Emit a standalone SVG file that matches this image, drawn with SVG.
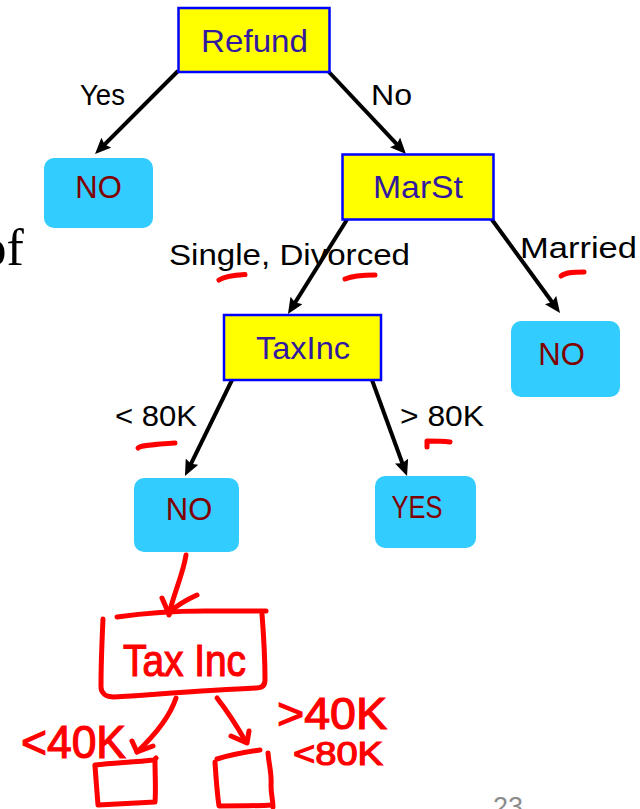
<svg xmlns="http://www.w3.org/2000/svg" width="640" height="809" viewBox="0 0 640 809">
  <defs>
    <style>
      .dec rect { fill: #FFFF00; stroke: #0000FF; stroke-width: 2.5; }
      .leaf rect { fill: #33CCFF; }
      .ntext { font-family: "Liberation Sans", Arial, sans-serif; font-size: 32px; fill: #3219A0; text-anchor: middle; }
      .ltext { font-family: "Liberation Sans", Arial, sans-serif; font-size: 31px; fill: #800000; text-anchor: middle; }
      .elabel { font-family: "Liberation Sans", Arial, sans-serif; font-size: 30px; fill: #000000; }
      .edge { stroke: #000000; stroke-width: 4; fill: none; marker-end: url(#arrow); }
      .ink { stroke: #FF0000; stroke-width: 5; fill: none; stroke-linecap: round; stroke-linejoin: round; }
      .inktext { font-family: "Liberation Sans", Arial, sans-serif; fill: #FF0000; stroke: #FF0000; stroke-width: 1.2; }
    </style>
    <marker id="arrow" viewBox="0 0 16 14" refX="8" refY="7" markerWidth="16" markerHeight="14" markerUnits="userSpaceOnUse" orient="auto">
      <path d="M0,0 L16,7 L0,14 L2.5,7 Z" fill="#000000"/>
    </marker>
  </defs>

  <rect x="0" y="0" width="640" height="809" fill="#FFFFFF"/>

  <!-- stray slide text -->
  <text x="-19.5" y="265" font-family="'Liberation Serif', 'Times New Roman', serif" font-size="52" fill="#000000">of</text>
  <text x="493" y="816" font-family="'Liberation Sans', Arial, sans-serif" font-size="27" fill="#8C8C8C">23</text>

  <!-- connectors -->
  <g id="connectors">
    <line class="edge" x1="178" y1="71" x2="100.7" y2="148.3"/>
    <line class="edge" x1="328" y1="71" x2="400.5" y2="148.2"/>
    <line class="edge" x1="348" y1="218" x2="292.2" y2="307.2"/>
    <line class="edge" x1="490" y1="217" x2="555.3" y2="306.5"/>
    <line class="edge" x1="232" y1="380" x2="188.5" y2="468.8"/>
    <line class="edge" x1="372" y1="380" x2="404.3" y2="468.5"/>
  </g>

  <!-- edge labels -->
  <g id="edge-labels">
    <text class="elabel" x="80" y="105" textLength="45" lengthAdjust="spacingAndGlyphs">Yes</text>
    <text class="elabel" x="371" y="105" textLength="41" lengthAdjust="spacingAndGlyphs">No</text>
    <text class="elabel" x="169" y="265" font-size="31" textLength="241" lengthAdjust="spacingAndGlyphs">Single, Divorced</text>
    <text class="elabel" x="520" y="258" font-size="31" textLength="117" lengthAdjust="spacingAndGlyphs">Married</text>
    <text class="elabel" x="115" y="426" textLength="82" lengthAdjust="spacingAndGlyphs">&lt; 80K</text>
    <text class="elabel" x="400" y="426" textLength="84" lengthAdjust="spacingAndGlyphs">&gt; 80K</text>
  </g>

  <!-- decision nodes -->
  <g id="node-refund" class="dec">
    <rect x="178.5" y="8" width="151" height="64"/>
    <text class="ntext" x="254.5" y="52" textLength="107" lengthAdjust="spacingAndGlyphs">Refund</text>
  </g>
  <g id="node-marst" class="dec">
    <rect x="342.5" y="154.5" width="151" height="65"/>
    <text class="ntext" x="418" y="198" textLength="90" lengthAdjust="spacingAndGlyphs">MarSt</text>
  </g>
  <g id="node-taxinc" class="dec">
    <rect x="224" y="315" width="157" height="65"/>
    <text class="ntext" x="303" y="359" textLength="94" lengthAdjust="spacingAndGlyphs">TaxInc</text>
  </g>

  <!-- leaf nodes -->
  <g id="leaf-no-refund" class="leaf">
    <rect x="44" y="158" width="109" height="70" rx="10"/>
    <text class="ltext" x="98.5" y="198">NO</text>
  </g>
  <g id="leaf-no-married" class="leaf">
    <rect x="511" y="321" width="109" height="76" rx="10"/>
    <text class="ltext" x="561.5" y="365">NO</text>
  </g>
  <g id="leaf-no-low" class="leaf">
    <rect x="134" y="478" width="105" height="74" rx="10"/>
    <text class="ltext" x="189" y="520">NO</text>
  </g>
  <g id="leaf-yes" class="leaf">
    <rect x="375" y="476" width="101" height="72" rx="10"/>
    <text class="ltext" x="417" y="518" textLength="51" lengthAdjust="spacingAndGlyphs">YES</text>
  </g>

  <!-- handwritten red annotations -->
  <g id="annotations">
    <!-- underlines -->
    <path class="ink" d="M219,280 C225,276 235,275 245,274.5"/>
    <path class="ink" d="M345,279 C352,276 364,275 375,275"/>
    <path class="ink" d="M561,276 C566,272 575,272 584,272"/>
    <path class="ink" stroke-width="4" d="M138,448 C140,446 145,445 175,443"/>
    <path class="ink" stroke-width="4" d="M427,447 L427,441 C435,441 442,441 450,442"/>

    <!-- arrow into hand-drawn box -->
    <path class="ink" d="M186,555 C183,575 172,598 169,615"/>
    <path class="ink" d="M162,598 L169,614 M197,595 C186,600 176,606 170,612"/>

    <!-- hand-drawn box -->
    <path class="ink" d="M117,617 C145,613 175,611 205,611 L266,611"/>
    <path class="ink" d="M262,614 C264,640 265,662 265,680 C265,686 261,688 256,688 C210,690 160,694 114,697 C106,697 101,693 101,687 C101,665 102,640 103,619"/>
    <g id="node-taxinc-hand">
      <text class="inktext" x="123" y="676" font-size="44" textLength="123" lengthAdjust="spacingAndGlyphs">Tax Inc</text>
    </g>

    <!-- branch arrows -->
    <path class="ink" d="M176,698 C170,716 155,735 137,752"/>
    <path class="ink" d="M132,741 L137,752 L153,746"/>
    <path class="ink" d="M217,698 C228,712 238,728 246,742"/>
    <path class="ink" d="M231,736 L247,743 L249,731"/>

    <!-- branch labels -->
    <text class="inktext" x="21" y="758" font-size="46" textLength="105" lengthAdjust="spacingAndGlyphs">&lt;40K</text>
    <text class="inktext" x="277" y="729" font-size="44" textLength="110" lengthAdjust="spacingAndGlyphs">&gt;40K</text>
    <text class="inktext" x="293" y="765" font-size="33" textLength="90" lengthAdjust="spacingAndGlyphs">&lt;80K</text>

    <!-- empty child boxes -->
    <g id="hand-box-left">
      <path class="ink" d="M95,765 C115,763 135,762 154,760 L156,758"/>
      <path class="ink" d="M95,766 C96,780 97,792 98,805 C118,804 138,803 155,802 C156,790 155,775 155,761"/>
    </g>
    <g id="hand-box-right">
      <path class="ink" d="M217,759 C230,755 245,752 260,750"/>
      <path class="ink" d="M215,762 C216,778 217,792 219,806 C235,806 255,806 272,805"/>
      <path class="ink" d="M268,753 C269,765 272,775 271,785 C271,795 273,800 273,807"/>
    </g>
  </g>
</svg>
